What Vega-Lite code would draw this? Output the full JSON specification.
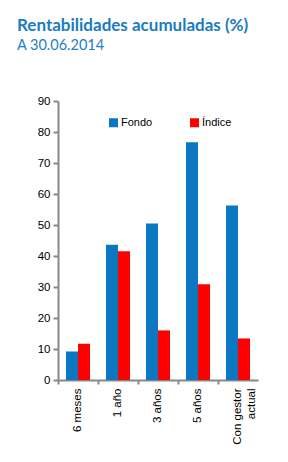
{
  "$schema": "https://vega.github.io/schema/vega-lite/v6.json",
  "width": 200,
  "height": 279,
  "autosize": {"type": "none"},
  "padding": {"left": 58, "top": 101, "right": 30, "bottom": 82},
  "background": "white",
  "title": {
    "text": "Rentabilidades acumuladas (%)",
    "subtitle": "A 30.06.2014",
    "anchor": "start",
    "frame": "group",
    "dx": -41,
    "offset": 42,
    "font": "Lato",
    "fontSize": 17,
    "fontWeight": "bold",
    "color": "#1a7cc1",
    "subtitleFont": "Lato",
    "subtitleFontSize": 14.5,
    "subtitleColor": "#1f80c4",
    "subtitlePadding": 4
  },
  "data": {
    "values": [
      {"periodo": "6 meses", "serie": "Fondo", "valor": 9.2},
      {"periodo": "6 meses", "serie": "Índice", "valor": 11.7},
      {"periodo": "1 año", "serie": "Fondo", "valor": 43.6},
      {"periodo": "1 año", "serie": "Índice", "valor": 41.5},
      {"periodo": "3 años", "serie": "Fondo", "valor": 50.5},
      {"periodo": "3 años", "serie": "Índice", "valor": 16.0},
      {"periodo": "5 años", "serie": "Fondo", "valor": 76.7},
      {"periodo": "5 años", "serie": "Índice", "valor": 30.9},
      {"periodo": "Con gestor actual", "serie": "Fondo", "valor": 56.3},
      {"periodo": "Con gestor actual", "serie": "Índice", "valor": 13.4}
    ]
  },
  "mark": {"type": "bar"},
  "encoding": {
    "x": {
      "field": "periodo",
      "type": "nominal",
      "sort": null,
      "scale": {"paddingInner": 0, "paddingOuter": 0},
      "axis": {
        "title": null,
        "labelAngle": -90,
        "labelAlign": "right",
        "labelBaseline": "middle",
        "labelExpr": "datum.value == 'Con gestor actual' ? ['Con gestor', 'actual'] : datum.label",
        "bandPosition": 0,
        "labelOffset": 0,
        "labelFont": "Liberation Sans",
        "labelFontSize": 11.5,
        "labelColor": "#000000",
        "labelPadding": 4,
        "domainColor": "#888888",
        "domainWidth": 2,
        "tickColor": "#888888",
        "tickWidth": 2,
        "tickSize": 4
      }
    },
    "xOffset": {
      "field": "serie",
      "type": "nominal",
      "scale": {"paddingInner": 0, "paddingOuter": 0.667}
    },
    "y": {
      "field": "valor",
      "type": "quantitative",
      "scale": {"domain": [0, 90], "nice": false},
      "axis": {
        "title": null,
        "values": [0, 10, 20, 30, 40, 50, 60, 70, 80, 90],
        "grid": false,
        "labelFont": "Liberation Sans",
        "labelFontSize": 11.5,
        "labelColor": "#000000",
        "labelPadding": 3,
        "domainColor": "#888888",
        "domainWidth": 2,
        "tickColor": "#888888",
        "tickWidth": 2,
        "tickSize": 5
      }
    },
    "color": {
      "field": "serie",
      "type": "nominal",
      "scale": {"domain": ["Fondo", "Índice"], "range": ["#0a77c0", "#ff0000"]},
      "legend": {
        "title": null,
        "orient": "none",
        "legendX": 50,
        "legendY": 16,
        "direction": "horizontal",
        "symbolType": "square",
        "symbolSize": 81,
        "symbolOpacity": 1,
        "symbolStrokeWidth": 0,
        "labelFont": "Liberation Sans",
        "labelFontSize": 11,
        "labelColor": "#000000",
        "labelOffset": 2,
        "columnPadding": 36
      }
    }
  },
  "config": {"view": {"stroke": null}}
}
